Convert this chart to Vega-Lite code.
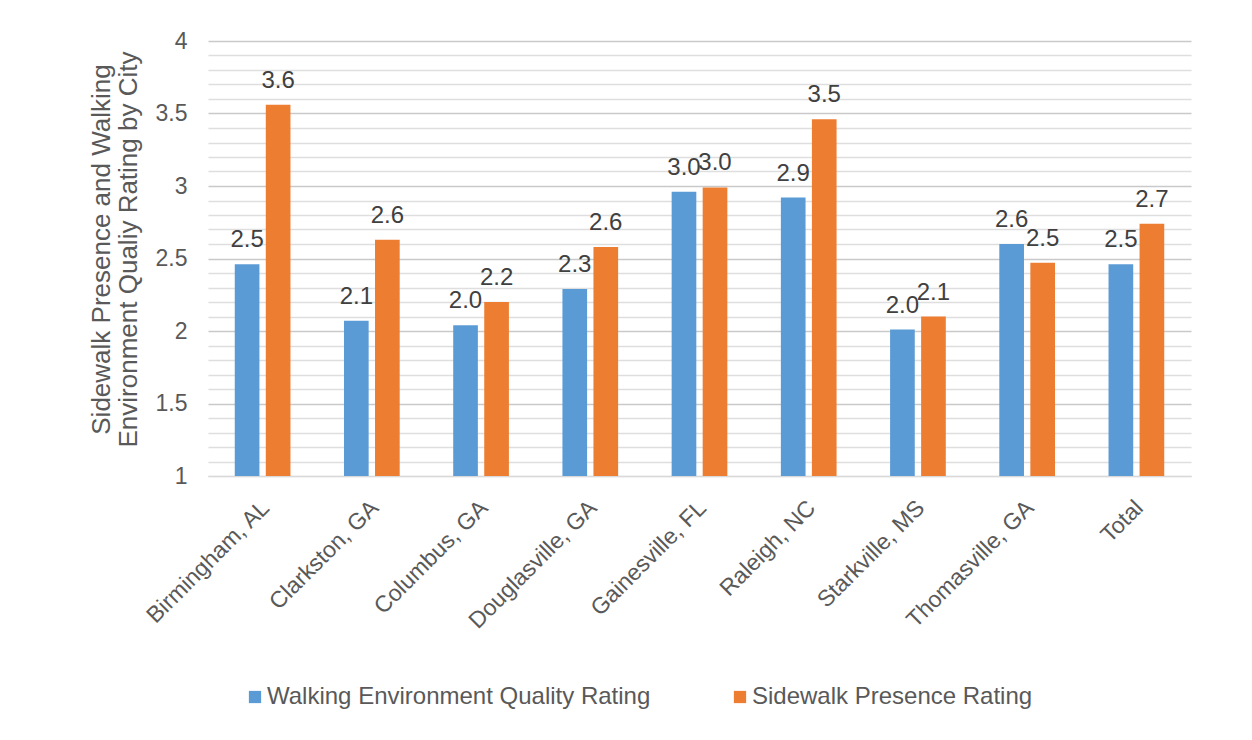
{
  "$schema": "https://vega.github.io/schema/vega-lite/v6.json",
  "width": 983,
  "height": 435,
  "autosize": {"type": "none"},
  "padding": {"left": 208, "top": 41, "right": 61, "bottom": 264},
  "background": "white",
  "config": {
    "view": {"stroke": null},
    "font": "Liberation Sans"
  },
  "data": {
    "values": [
      {"city": "Birmingham, AL", "series": "Walking Environment Quality Rating", "value": 2.46},
      {"city": "Birmingham, AL", "series": "Sidewalk Presence Rating", "value": 3.56},
      {"city": "Clarkston, GA", "series": "Walking Environment Quality Rating", "value": 2.07},
      {"city": "Clarkston, GA", "series": "Sidewalk Presence Rating", "value": 2.63},
      {"city": "Columbus, GA", "series": "Walking Environment Quality Rating", "value": 2.04},
      {"city": "Columbus, GA", "series": "Sidewalk Presence Rating", "value": 2.2},
      {"city": "Douglasville, GA", "series": "Walking Environment Quality Rating", "value": 2.29},
      {"city": "Douglasville, GA", "series": "Sidewalk Presence Rating", "value": 2.58},
      {"city": "Gainesville, FL", "series": "Walking Environment Quality Rating", "value": 2.96},
      {"city": "Gainesville, FL", "series": "Sidewalk Presence Rating", "value": 2.99},
      {"city": "Raleigh, NC", "series": "Walking Environment Quality Rating", "value": 2.92},
      {"city": "Raleigh, NC", "series": "Sidewalk Presence Rating", "value": 3.46},
      {"city": "Starkville, MS", "series": "Walking Environment Quality Rating", "value": 2.01},
      {"city": "Starkville, MS", "series": "Sidewalk Presence Rating", "value": 2.1},
      {"city": "Thomasville, GA", "series": "Walking Environment Quality Rating", "value": 2.6},
      {"city": "Thomasville, GA", "series": "Sidewalk Presence Rating", "value": 2.47},
      {"city": "Total", "series": "Walking Environment Quality Rating", "value": 2.46},
      {"city": "Total", "series": "Sidewalk Presence Rating", "value": 2.74}
    ]
  },
  "encoding": {
    "x": {
      "field": "city",
      "type": "nominal",
      "sort": null,
      "scale": {"paddingInner": 0.49, "paddingOuter": 0.245},
      "axis": {
        "title": null,
        "labelAngle": -45,
        "labelAlign": "right",
        "labelBaseline": "middle",
        "labelFontSize": 23,
        "labelColor": "#595959",
        "labelPadding": 28,
        "labelOffset": 3,
        "labelLimit": 0,
        "ticks": false,
        "domain": true,
        "domainColor": "#D9D9D9",
        "grid": false
      }
    },
    "xOffset": {
      "field": "series",
      "type": "nominal",
      "sort": ["Walking Environment Quality Rating", "Sidewalk Presence Rating"],
      "scale": {"paddingInner": 0.205, "paddingOuter": 0}
    },
    "y": {
      "field": "value",
      "type": "quantitative",
      "scale": {"domain": [1, 4], "nice": false, "zero": false},
      "axis": {
        "values": [1, 1.1, 1.2, 1.3, 1.4, 1.5, 1.6, 1.7, 1.8, 1.9, 2, 2.1, 2.2, 2.3, 2.4, 2.5, 2.6, 2.7, 2.8, 2.9, 3, 3.1, 3.2, 3.3, 3.4, 3.5, 3.6, 3.7, 3.8, 3.9, 4],
        "labelExpr": "abs(datum.value * 2 - round(datum.value * 2)) < 0.001 ? datum.label : ''",
        "format": "~g",
        "labelFontSize": 23,
        "labelColor": "#595959",
        "labelPadding": 21,
        "ticks": false,
        "domain": false,
        "grid": true,
        "gridColor": {
          "condition": {"test": "abs(datum.value * 2 - round(datum.value * 2)) < 0.001", "value": "#C9C9C9"},
          "value": "#DEDEDE"
        },
        "gridWidth": 1.3,
        "title": ["Sidewalk Presence and Walking", "Environment Qualiy Rating by City"],
        "titleFontSize": 26,
        "titleFontWeight": "normal",
        "titleColor": "#595959",
        "titleAngle": -90,
        "titleAlign": "center",
        "titleBaseline": "middle",
        "titleLineHeight": 27,
        "titleX": -107,
        "titleY": 208
      }
    }
  },
  "layer": [
    {
      "mark": {"type": "bar"},
      "encoding": {
        "y2": {"datum": 1},
        "color": {
          "field": "series",
          "type": "nominal",
          "sort": ["Walking Environment Quality Rating", "Sidewalk Presence Rating"],
          "scale": {
            "domain": ["Walking Environment Quality Rating", "Sidewalk Presence Rating"],
            "range": ["#5B9BD5", "#ED7D31"]
          },
          "legend": {
            "title": null,
            "orient": "none",
            "legendX": 35,
            "legendY": 644,
            "direction": "horizontal",
            "symbolType": "square",
            "symbolSize": 150,
            "symbolStrokeWidth": 0,
            "labelFontSize": 24,
            "labelColor": "#595959",
            "labelLimit": 0,
            "labelOffset": 0,
            "columnPadding": 77,
            "padding": 0
          }
        }
      }
    },
    {
      "mark": {"type": "text", "baseline": "alphabetic", "dy": -17, "fontSize": 24, "color": "#404040"},
      "encoding": {
        "text": {"field": "value", "type": "quantitative", "format": ".1f"}
      }
    }
  ]
}
